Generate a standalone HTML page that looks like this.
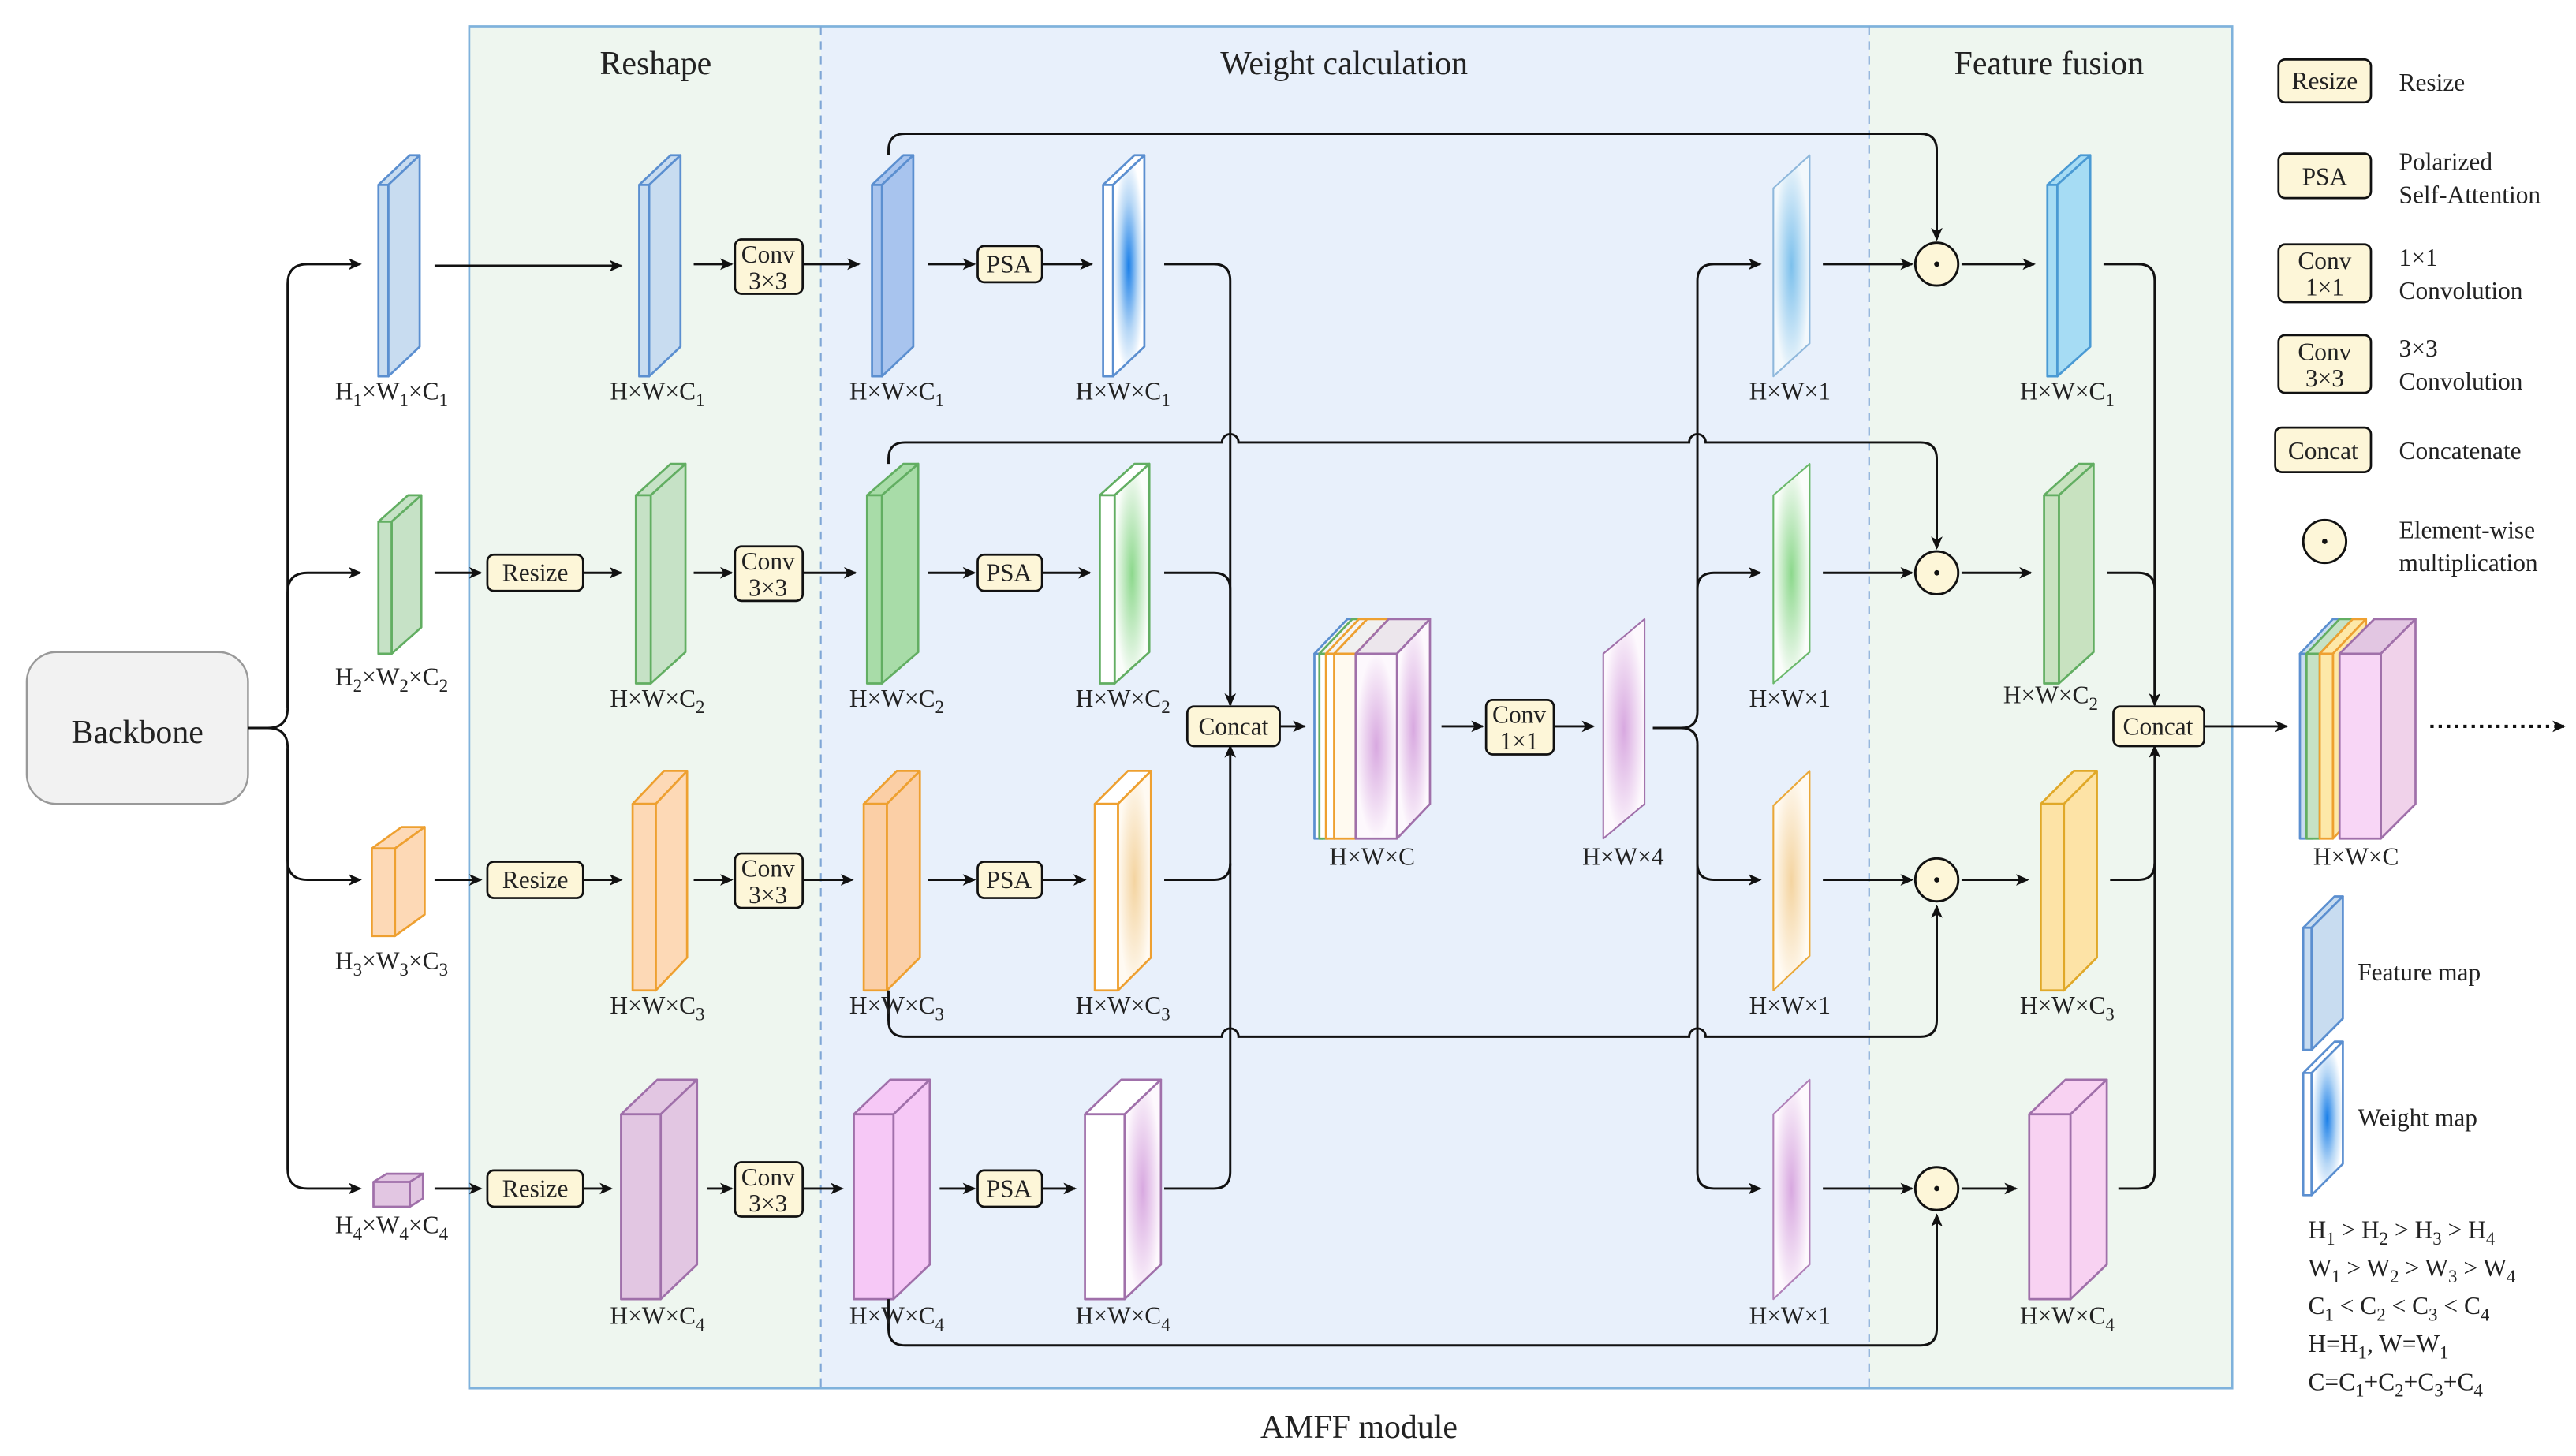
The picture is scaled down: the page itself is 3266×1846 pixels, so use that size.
<!DOCTYPE html>
<html><head><meta charset="utf-8"><style>
html,body{margin:0;padding:0;background:#fff}
svg{display:block}
text{font-family:"Liberation Serif","DejaVu Serif",serif;fill:#222}
</style></head><body>
<svg id="s" width="3266" height="1846" viewBox="0 0 1560 882" xmlns="http://www.w3.org/2000/svg">
<defs>
<marker id="a" markerWidth="8" markerHeight="8" refX="7" refY="4" orient="auto" markerUnits="userSpaceOnUse"><path d="M0,0.5 L8,4 L0,7.5 L2,4z" fill="#111"/></marker>
<radialGradient id="gb" cx="0.5" cy="0.5" r="0.5"><stop offset="0" stop-color="#1a7fe8"/><stop offset="0.6" stop-color="#b8d8f6"/><stop offset="1" stop-color="#fff"/></radialGradient>
<radialGradient id="gb2" cx="0.5" cy="0.5" r="0.5"><stop offset="0" stop-color="#7cc0ec"/><stop offset="1" stop-color="#f2f8fc"/></radialGradient>
<radialGradient id="gg" cx="0.5" cy="0.5" r="0.5"><stop offset="0" stop-color="#8cd88c"/><stop offset="1" stop-color="#fafdfa"/></radialGradient>
<radialGradient id="go" cx="0.5" cy="0.5" r="0.5"><stop offset="0" stop-color="#f4d4a0"/><stop offset="1" stop-color="#fffaf2"/></radialGradient>
<radialGradient id="gp" cx="0.5" cy="0.5" r="0.5"><stop offset="0" stop-color="#d8a8e0"/><stop offset="1" stop-color="#fdf8fd"/></radialGradient>
</defs>
<rect x="284" y="16" width="213" height="825" fill="#eef6ef"/>
<rect x="497" y="16" width="635" height="825" fill="#e8f0fb"/>
<rect x="1132" y="16" width="220" height="825" fill="#eef6ef"/>
<rect x="284" y="16" width="1068" height="825" fill="none" stroke="#7fb2dc" stroke-width="1.3"/>
<line x1="497" y1="16" x2="497" y2="841" stroke="#7fa6d6" stroke-dasharray="5,4"/>
<line x1="1132" y1="16" x2="1132" y2="841" stroke="#7fa6d6" stroke-dasharray="5,4"/>
<text x="397" y="45" font-size="20" text-anchor="middle">Reshape</text>
<text x="814" y="45" font-size="20" text-anchor="middle">Weight calculation</text>
<text x="1241" y="45" font-size="20" text-anchor="middle">Feature fusion</text>
<text x="823" y="871" font-size="20" text-anchor="middle">AMFF module</text>
<rect x="16" y="395" width="134" height="92" rx="18" fill="#f2f2f2" stroke="#999" stroke-width="1.2"/>
<text x="83" y="450" font-size="20" text-anchor="middle">Backbone</text>
<g id="shapes"></g>
<g fill="none" stroke="#111" stroke-width="1.4">
<path d="M150,441 H162 Q174,441 174,429 V172 Q174,160 186,160 H218" marker-end="url(#a)"/>
<path d="M162,441 Q174,441 174,453"/>
<path d="M174,429 V359 Q174,347 186,347 H218" marker-end="url(#a)"/>
<path d="M174,453 V521 Q174,533 186,533 H218" marker-end="url(#a)"/>
<path d="M174,453 V708 Q174,720 186,720 H218" marker-end="url(#a)"/>
<path d="M263,161 H376" marker-end="url(#a)"/>
<path d="M263,347 H291" marker-end="url(#a)"/><path d="M353,347 H376" marker-end="url(#a)"/>
<path d="M263,533 H291" marker-end="url(#a)"/><path d="M353,533 H376" marker-end="url(#a)"/>
<path d="M263,720 H291" marker-end="url(#a)"/><path d="M353,720 H370" marker-end="url(#a)"/>
<path d="M420,160 H443" marker-end="url(#a)"/><path d="M486,160 H520" marker-end="url(#a)"/>
<path d="M420,347 H443" marker-end="url(#a)"/><path d="M486,347 H518" marker-end="url(#a)"/>
<path d="M420,533 H443" marker-end="url(#a)"/><path d="M486,533 H516" marker-end="url(#a)"/>
<path d="M428,720 H443" marker-end="url(#a)"/><path d="M486,720 H510" marker-end="url(#a)"/>
<path d="M562,160 H590" marker-end="url(#a)"/><path d="M631,160 H661" marker-end="url(#a)"/>
<path d="M562,347 H590" marker-end="url(#a)"/><path d="M631,347 H660" marker-end="url(#a)"/>
<path d="M562,533 H590" marker-end="url(#a)"/><path d="M631,533 H657" marker-end="url(#a)"/>
<path d="M569,720 H590" marker-end="url(#a)"/><path d="M631,720 H651" marker-end="url(#a)"/>
<path d="M705,160 H735 Q745,160 745,170 V427" marker-end="url(#a)"/>
<path d="M705,347 H735 Q745,347 745,357 V427"/>
<path d="M705,533 H735 Q745,533 745,523 V452" marker-end="url(#a)"/>
<path d="M705,720 H735 Q745,720 745,710 V523"/>
<path d="M775,440 H790" marker-end="url(#a)"/>
<path d="M873,440 H898" marker-end="url(#a)"/>
<path d="M941,440 H965" marker-end="url(#a)"/>
<path d="M1001,441 H1018 Q1028,441 1028,431 V170 Q1028,160 1038,160 H1066" marker-end="url(#a)"/>
<path d="M1028,431 V357 Q1028,347 1038,347 H1066" marker-end="url(#a)"/>
<path d="M1018,441 Q1028,441 1028,451 V523 Q1028,533 1038,533 H1066" marker-end="url(#a)"/>
<path d="M1028,451 V710 Q1028,720 1038,720 H1066" marker-end="url(#a)"/>
<path d="M1104,160 H1158" marker-end="url(#a)"/><path d="M1188,160 H1232" marker-end="url(#a)"/>
<path d="M1104,347 H1158" marker-end="url(#a)"/><path d="M1188,347 H1230" marker-end="url(#a)"/>
<path d="M1104,533 H1158" marker-end="url(#a)"/><path d="M1188,533 H1228" marker-end="url(#a)"/>
<path d="M1104,720 H1158" marker-end="url(#a)"/><path d="M1188,720 H1221" marker-end="url(#a)"/>
<path d="M1274,160 H1295 Q1305,160 1305,170 V427" marker-end="url(#a)"/>
<path d="M1276,347 H1295 Q1305,347 1305,357 V427"/>
<path d="M1278,533 H1295 Q1305,533 1305,523 V452" marker-end="url(#a)"/>
<path d="M1283,720 H1295 Q1305,720 1305,710 V523"/>
<path d="M1335,440 H1385" marker-end="url(#a)"/>
<path d="M1472,440 H1553" stroke-dasharray="2,3" stroke-width="2" marker-end="url(#a)"/>
<path d="M538,94 V91 Q538,81 548,81 H1163 Q1173,81 1173,91 V145" marker-end="url(#a)"/>
<path d="M538,281 V278 Q538,268 548,268 H740 A5,5 0 0 1 750,268 H1023 A5,5 0 0 1 1033,268 H1163 Q1173,268 1173,278 V332" marker-end="url(#a)"/>
<path d="M538,600 V618 Q538,628 548,628 H740 A5,5 0 0 1 750,628 H1023 A5,5 0 0 1 1033,628 H1163 Q1173,628 1173,618 V549" marker-end="url(#a)"/>
<path d="M538,787 V805 Q538,815 548,815 H1163 Q1173,815 1173,805 V736" marker-end="url(#a)"/>
</g>
<g fill="#fdf6d8" stroke="#111" stroke-width="1.4">
<circle cx="1173" cy="160" r="13"/><circle cx="1173" cy="347" r="13"/><circle cx="1173" cy="533" r="13"/><circle cx="1173" cy="720" r="13"/>
<circle cx="1408" cy="328" r="13"/>
</g>
<g fill="#111"><circle cx="1173" cy="160" r="1.6"/><circle cx="1173" cy="347" r="1.6"/><circle cx="1173" cy="533" r="1.6"/><circle cx="1173" cy="720" r="1.6"/><circle cx="1408" cy="328" r="1.6"/></g>
<g fill="#fdf6d8" stroke="#111" stroke-width="1.3">
<rect x="445" y="145" width="41" height="33" rx="4"/><rect x="445" y="331" width="41" height="33" rx="4"/><rect x="445" y="517" width="41" height="33" rx="4"/><rect x="445" y="704" width="41" height="33" rx="4"/>
<rect x="592" y="149" width="39" height="22" rx="4"/><rect x="592" y="336" width="39" height="22" rx="4"/><rect x="592" y="522" width="39" height="22" rx="4"/><rect x="592" y="709" width="39" height="22" rx="4"/>
<rect x="295" y="336" width="58" height="22" rx="4"/><rect x="295" y="522" width="58" height="22" rx="4"/><rect x="295" y="709" width="58" height="22" rx="4"/>
<rect x="719" y="428" width="56" height="24" rx="4"/><rect x="900" y="424" width="41" height="33" rx="4"/><rect x="1280" y="428" width="55" height="24" rx="4"/>
<rect x="1380" y="36" width="56" height="26" rx="4"/><rect x="1380" y="93" width="56" height="27" rx="4"/><rect x="1380" y="148" width="56" height="35" rx="4"/><rect x="1380" y="203" width="56" height="35" rx="4"/><rect x="1378" y="259" width="58" height="27" rx="4"/>
</g>
<g font-size="15" text-anchor="middle">
<text x="465" y="159">Conv</text><text x="465" y="175">3×3</text>
<text x="465" y="345">Conv</text><text x="465" y="361">3×3</text>
<text x="465" y="531">Conv</text><text x="465" y="547">3×3</text>
<text x="465" y="718">Conv</text><text x="465" y="734">3×3</text>
<text x="611" y="165">PSA</text><text x="611" y="352">PSA</text><text x="611" y="538">PSA</text><text x="611" y="725">PSA</text>
<text x="324" y="352">Resize</text><text x="324" y="538">Resize</text><text x="324" y="725">Resize</text>
<text x="747" y="445">Concat</text><text x="920" y="438">Conv</text><text x="920" y="454">1×1</text><text x="1307" y="445">Concat</text>
<text x="1408" y="54">Resize</text><text x="1408" y="112">PSA</text>
<text x="1408" y="163">Conv</text><text x="1408" y="179">1×1</text>
<text x="1408" y="218">Conv</text><text x="1408" y="234">3×3</text>
<text x="1407" y="278">Concat</text>
</g>
<g font-size="15">
<text x="1453" y="55">Resize</text>
<text x="1453" y="103">Polarized</text><text x="1453" y="123">Self-Attention</text>
<text x="1453" y="161">1×1</text><text x="1453" y="181">Convolution</text>
<text x="1453" y="216">3×3</text><text x="1453" y="236">Convolution</text>
<text x="1453" y="278">Concatenate</text>
<text x="1453" y="326">Element-wise</text><text x="1453" y="346">multiplication</text>
<text x="1428" y="594">Feature map</text><text x="1428" y="682">Weight map</text>
<text x="1398" y="750">H<tspan font-size="11" dy="4">1</tspan><tspan dy="-4"> &gt; H</tspan><tspan font-size="11" dy="4">2</tspan><tspan dy="-4"> &gt; H</tspan><tspan font-size="11" dy="4">3</tspan><tspan dy="-4"> &gt; H</tspan><tspan font-size="11" dy="4">4</tspan></text>
<text x="1398" y="773">W<tspan font-size="11" dy="4">1</tspan><tspan dy="-4"> &gt; W</tspan><tspan font-size="11" dy="4">2</tspan><tspan dy="-4"> &gt; W</tspan><tspan font-size="11" dy="4">3</tspan><tspan dy="-4"> &gt; W</tspan><tspan font-size="11" dy="4">4</tspan></text>
<text x="1398" y="796">C<tspan font-size="11" dy="4">1</tspan><tspan dy="-4"> &lt; C</tspan><tspan font-size="11" dy="4">2</tspan><tspan dy="-4"> &lt; C</tspan><tspan font-size="11" dy="4">3</tspan><tspan dy="-4"> &lt; C</tspan><tspan font-size="11" dy="4">4</tspan></text>
<text x="1398" y="819">H=H<tspan font-size="11" dy="4">1</tspan><tspan dy="-4">,  W=W</tspan><tspan font-size="11" dy="4">1</tspan></text>
<text x="1398" y="842">C=C<tspan font-size="11" dy="4">1</tspan><tspan dy="-4">+C</tspan><tspan font-size="11" dy="4">2</tspan><tspan dy="-4">+C</tspan><tspan font-size="11" dy="4">3</tspan><tspan dy="-4">+C</tspan><tspan font-size="11" dy="4">4</tspan></text>
</g>
<g font-size="15" text-anchor="middle">
<text x="237" y="242">H<tspan font-size="11" dy="4">1</tspan><tspan dy="-4">×W</tspan><tspan font-size="11" dy="4">1</tspan><tspan dy="-4">×C</tspan><tspan font-size="11" dy="4">1</tspan></text>
<text x="237" y="415">H<tspan font-size="11" dy="4">2</tspan><tspan dy="-4">×W</tspan><tspan font-size="11" dy="4">2</tspan><tspan dy="-4">×C</tspan><tspan font-size="11" dy="4">2</tspan></text>
<text x="237" y="587">H<tspan font-size="11" dy="4">3</tspan><tspan dy="-4">×W</tspan><tspan font-size="11" dy="4">3</tspan><tspan dy="-4">×C</tspan><tspan font-size="11" dy="4">3</tspan></text>
<text x="237" y="747">H<tspan font-size="11" dy="4">4</tspan><tspan dy="-4">×W</tspan><tspan font-size="11" dy="4">4</tspan><tspan dy="-4">×C</tspan><tspan font-size="11" dy="4">4</tspan></text>
<text x="398" y="242">H×W×C<tspan font-size="11" dy="4">1</tspan></text><text x="543" y="242">H×W×C<tspan font-size="11" dy="4">1</tspan></text><text x="680" y="242">H×W×C<tspan font-size="11" dy="4">1</tspan></text><text x="1084" y="242">H×W×1</text><text x="1252" y="242">H×W×C<tspan font-size="11" dy="4">1</tspan></text>
<text x="398" y="428">H×W×C<tspan font-size="11" dy="4">2</tspan></text><text x="543" y="428">H×W×C<tspan font-size="11" dy="4">2</tspan></text><text x="680" y="428">H×W×C<tspan font-size="11" dy="4">2</tspan></text><text x="1084" y="428">H×W×1</text><text x="1242" y="426">H×W×C<tspan font-size="11" dy="4">2</tspan></text>
<text x="398" y="614">H×W×C<tspan font-size="11" dy="4">3</tspan></text><text x="543" y="614">H×W×C<tspan font-size="11" dy="4">3</tspan></text><text x="680" y="614">H×W×C<tspan font-size="11" dy="4">3</tspan></text><text x="1084" y="614">H×W×1</text><text x="1252" y="614">H×W×C<tspan font-size="11" dy="4">3</tspan></text>
<text x="398" y="802">H×W×C<tspan font-size="11" dy="4">4</tspan></text><text x="543" y="802">H×W×C<tspan font-size="11" dy="4">4</tspan></text><text x="680" y="802">H×W×C<tspan font-size="11" dy="4">4</tspan></text><text x="1084" y="802">H×W×1</text><text x="1252" y="802">H×W×C<tspan font-size="11" dy="4">4</tspan></text>
<text x="831" y="524">H×W×C</text><text x="983" y="524">H×W×4</text><text x="1427" y="524">H×W×C</text>
</g>
</svg>
<script>
var g=document.getElementById('shapes'),NS='http://www.w3.org/2000/svg';
function P(pts,f,s,sw){var p=document.createElementNS(NS,'polygon');p.setAttribute('points',pts.map(function(a){return a.join(',')}).join(' '));p.setAttribute('fill',f);p.setAttribute('stroke',s);p.setAttribute('stroke-width',sw||1.3);p.setAttribute('stroke-linejoin','round');g.appendChild(p);}
function box(x,y,w,h,dx,dy,f,s,side,front){
 P([[x,y],[x+dx,y+dy],[x+w+dx,y+dy],[x+w,y]],f,s);
 P([[x+w,y],[x+w+dx,y+dy],[x+w+dx,y+h+dy],[x+w,y+h]],side||f,s);
 P([[x,y],[x+w,y],[x+w,y+h],[x,y+h]],front||f,s);}
function plane(x,y,h,dx,dy,f,s){P([[x,y],[x+dx,y+dy],[x+dx,y+h+dy],[x,y+h]],f,s,1);}
var B=['#c8dcf0','#5b8fd0'],G=['#c6e2c6','#62ae62'],O=['#fdd9b6','#eea030'],Pp=['#e2c6e2','#a070aa'];
box(229,112,6,116,19,-18,B[0],B[1]);box(387,112,6,116,19,-18,B[0],B[1]);
box(528,112,6,116,19,-18,'#a8c4ee',B[1]);box(668,112,6,116,19,-18,'#fff',B[1],'url(#gb)');
plane(1074,114,114,22,-20,'url(#gb2)','#8fb8dc');box(1240,112,6,116,20,-18,'#a6dcf4','#4a9ad4');
box(229,316,8,80,18,-16,G[0],G[1]);box(385,300,9,114,21,-19,G[0],G[1]);
box(525,300,9,114,22,-19,'#a8dca8',G[1]);box(666,300,9,114,21,-19,'#fff',G[1],'url(#gg)');
plane(1074,300,114,22,-19,'url(#gg)','#6ab86a');box(1238,300,9,114,21,-19,'#c8e2c0',G[1]);
box(225,514,14,53,18,-13,O[0],O[1]);box(383,487,14,113,19,-20,O[0],O[1]);
box(523,487,14,113,20,-20,'#fbcfa6',O[1]);box(663,487,14,113,20,-20,'#fff',O[1],'url(#go)');
plane(1074,488,112,22,-21,'url(#go)','#eaa838');box(1236,487,14,113,20,-20,'#fde3a6','#e0a828');
box(226,716,22,15,8,-5,Pp[0],Pp[1]);box(376,675,24,112,22,-21,Pp[0],Pp[1]);
box(517,675,24,112,22,-21,'#f6c8f6',Pp[1]);box(657,675,24,112,22,-21,'#fff',Pp[1],'url(#gp)','#fff');
plane(1074,675,112,22,-21,'url(#gp)','#b080b8');box(1229,675,25,112,22,-21,'#f8d2f2',Pp[1]);
[['#fff','#5b8fd0',796],['#fff','#62ae62',799],['#fff','#eea030',803]].forEach(function(c){box(c[2],396,5,112,20,-21,'#f4f4f4',c[1],'#f4f4f4',c[0]);});
box(808,396,13,112,20,-21,'#f0f0f0','#eea030','#f0f0f0','#fffaf0');
box(821,396,25,112,20,-21,'#ece6ec',Pp[1],'url(#gp)','url(#gp)');
plane(971,396,112,25,-21,'url(#gp)',Pp[1]);
[['#c8dcf0','#5b8fd0',1393],['#c6e2c6','#62ae62',1397],['#fde8a8','#eea030',1405]].forEach(function(c){box(c[2],396,8,112,20,-21,c[0],c[1],c[0],c[0]);});
box(1417,396,25,112,21,-21,'#e2c6e2',Pp[1],'#f0d2ea','#f8d6f6');
box(1395,562,5,74,19,-19,B[0],B[1]);box(1395,650,5,74,19,-19,'#fff',B[1],'url(#gb)');
</script>
</body></html>
